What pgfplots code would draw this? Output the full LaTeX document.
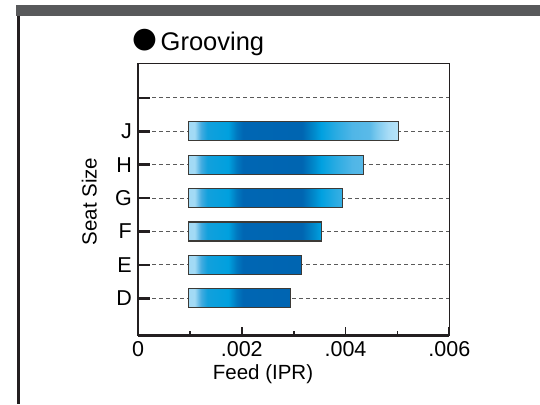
\documentclass[border=0pt]{standalone}
\usepackage{pgfplots}
\pgfplotsset{compat=1.18}
\usepackage{pgfplotstable}
\usepackage{fontspec}
\setmainfont{Liberation Sans}
\newfontfamily\dejavu{DejaVu Sans}
\definecolor{axiscol}{HTML}{231F20}
\definecolor{gridcol}{HTML}{5A5A5A}
\definecolor{framegray}{HTML}{58595B}
\definecolor{barline}{HTML}{3C3A36}
\definecolor{s0}{HTML}{A3DAF5}
\definecolor{s1}{HTML}{45ACE0}
\definecolor{s2}{HTML}{12A0DC}
\definecolor{s3}{HTML}{00A0DE}
\definecolor{s4}{HTML}{0078BF}
\definecolor{s5}{HTML}{0066B3}
\definecolor{s6}{HTML}{0065B1}
\definecolor{s7}{HTML}{0085C8}
\definecolor{s8}{HTML}{00A0E0}
\definecolor{s9}{HTML}{2AABE2}
\definecolor{s10}{HTML}{50B6E7}
\definecolor{s11}{HTML}{5ABAE8}
\definecolor{s12}{HTML}{80CBEF}
\definecolor{s13}{HTML}{A8DCF6}
\definecolor{s14}{HTML}{B8E3F8}
\pgfdeclarehorizontalshading{barshade}{100bp}{%
color(0bp)=(s0); color(25bp)=(s0); color(26.5bp)=(s0); color(28bp)=(s1);
color(29.5bp)=(s2); color(34.5bp)=(s3); color(36.5bp)=(s4); color(38bp)=(s5);
color(52bp)=(s6); color(54.5bp)=(s7); color(56.5bp)=(s8); color(60bp)=(s9);
color(64bp)=(s10); color(68bp)=(s11); color(70bp)=(s12); color(72.5bp)=(s13);
color(75bp)=(s14); color(100bp)=(s14)}
% pos: D=0 ... J=5 ; lead = start of bar ; span = bar length
\pgfplotstableread{
pos lead span
0 0.00097 0.001973
1 0.00097 0.002180
2 0.00097 0.002570
3 0.00097 0.002976
4 0.00097 0.003375
5 0.00097 0.004055
}\bars
\begin{document}
\begin{tikzpicture}[x=1pt,y=1pt]
\useasboundingbox (0,-404) rectangle (540,0);
\fill[framegray] (16,-5) rectangle (540,-15.7);
\draw[line width=2.4pt, axiscol] (18.3,-15.7) -- (18.3,-404);
\node[font=\dejavu\fontsize{28.5}{30}\selectfont, inner sep=0pt] at (144.5,-40.2) {●};
\node[anchor=base west, inner sep=0pt, font=\fontsize{25.5}{28}\selectfont] at (160.5,-50.7) {Grooving};
\begin{axis}[
  at={(138pt,-335.5pt)}, anchor=south west,
  scale only axis, width=311.3pt, height=272.2pt,
  xmin=0, xmax=0.006, ymin=-1.114, ymax=7.036,
  scaled x ticks=false,
  axis x line*=bottom, axis y line*=left,
  axis line style={-, line width=2.7pt, axiscol},
  xtick={0,0.002,0.004,0.006}, xticklabels={0,.002,.004,.006},
  minor xtick={0.001,0.003,0.005},
  ytick={0,1,2,3,4,5,6}, yticklabels={D,E,F,G,H,J,{}},
  tick align=inside,
  major tick length=12pt, minor tick length=5pt,
  xtick style={/pgfplots/major tick length=9pt, line width=1.8pt, axiscol},
  ytick style={line width=2.5pt, axiscol},
  ymajorgrids,
  major grid style={gridcol, line width=1pt, dash pattern=on 4.3pt off 2.7pt},
  tick label style={font=\fontsize{21.5}{24}\selectfont, inner sep=0pt},
  xticklabel style={yshift=-6pt},
  yticklabel style={xshift=-6pt},
  xlabel={Feed (IPR)}, ylabel={Seat Size},
  label style={font=\fontsize{20.5}{24}\selectfont, inner sep=0pt},
  xlabel style={at={(axis description cs:0.4015,-0.1609)}, anchor=base},
  ylabel style={at={(axis description cs:-0.1327,0.492)}, anchor=base},
  xbar stacked, bar width=0.57,
  after end axis/.code={\draw[line width=1pt, axiscol] (rel axis cs:0,1) -- (rel axis cs:1,1) -- (rel axis cs:1,0);},
]
\addplot[draw=none, fill=none, forget plot] table[x=lead, y=pos]{\bars};
\addplot[draw=barline, line width=1.3pt, shading=barshade] table[x=span, y=pos]{\bars};
\end{axis}
\end{tikzpicture}
\end{document}
